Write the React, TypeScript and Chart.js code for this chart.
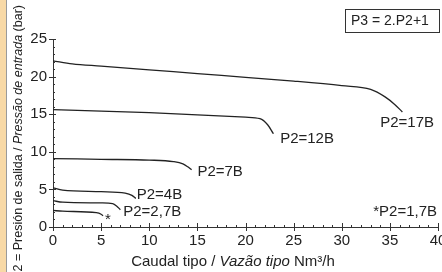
import React, { useEffect, useRef } from "react";
import { Chart, registerables } from "chart.js";
Chart.register(...registerables);

// x = caudal (Nm³/h), y = presión (bar)
const p17x = [0, 2, 5, 10, 15, 20, 25, 30, 33, 34.5, 35.5, 36.3];
const p17y = [22.1, 21.7, 21.4, 20.9, 20.4, 19.9, 19.4, 18.8, 18.3, 17.3, 16.3, 15.3];
const p12x = [0, 5, 10, 15, 20, 21.5, 22.3, 22.9];
const p12y = [15.6, 15.4, 15.2, 14.9, 14.6, 14.4, 13.6, 12.4];
const p7x = [0, 5, 10, 12.5, 13.5, 14.0, 14.4];
const p7y = [9.1, 9.0, 8.9, 8.7, 8.4, 8.0, 7.6];
const p4x = [0, 1, 5, 7.5, 8.2, 8.6];
const p4y = [5.2, 4.9, 4.7, 4.5, 4.2, 3.8];
const p27x = [0, 1, 5, 6.2, 6.6, 7.0];
const p27y = [3.5, 3.3, 3.2, 3.1, 2.8, 2.3];
const p17bx = [0, 1, 4.5, 5.0, 5.2];
const p17by = [2.2, 2.1, 1.9, 1.7, 1.5];

const xTicks = [0, 5, 10, 15, 20, 25, 30, 35, 40];
const yTicks = [0, 5, 10, 15, 20, 25];

const curveLabels = ["P2=17B", "P2=12B", "P2=7B", "P2=4B", "P2=2,7B", "*", "*P2=1,7B"];
const labelX = [34.0, 23.6, 15.0, 8.7, 7.3, 5.7, 39.9];
const labelY = [13.9, 11.7, 7.3, 4.3, 2.0, 0.9, 2.0];
const labelAlign = ["left", "left", "left", "left", "left", "center", "right"];

const formula = "P3 = 2.P2+1";

const FONT = "'Liberation Sans', Arial, sans-serif";
const INK = "#222";

const toPts = (xs: number[], ys: number[]) => xs.map((x, i) => ({ x, y: ys[i] }));

export default function App() {
  const ref = useRef<HTMLCanvasElement | null>(null);
  useEffect(() => {
    document.body.style.margin = "0";
    const ctx = ref.current!.getContext("2d")!;
    const series = [
      toPts(p17x, p17y),
      toPts(p12x, p12y),
      toPts(p7x, p7y),
      toPts(p4x, p4y),
      toPts(p27x, p27y),
      toPts(p17bx, p17by),
    ];
    const deco = {
      id: "deco",
      afterDraw(chart: any) {
        const c = chart.ctx;
        const xs = chart.scales.x;
        const ys = chart.scales.y;
        const ax = xs.getPixelForValue(0);
        const ay = ys.getPixelForValue(0);
        c.save();
        c.strokeStyle = "#333";
        c.lineWidth = 1;
        c.beginPath();
        for (let v = 0; v <= 40; v++) {
          const px = Math.round(xs.getPixelForValue(v)) + 0.5;
          if (v % 5 === 0) {
            c.moveTo(px, ay - 4);
            c.lineTo(px, ay + 4);
          } else {
            c.moveTo(px, ay - 2);
            c.lineTo(px, ay);
          }
        }
        for (let v = 0; v <= 25; v++) {
          const py = Math.round(ys.getPixelForValue(v)) + 0.5;
          if (v % 5 === 0) {
            c.moveTo(ax - 4, py);
            c.lineTo(ax + 3, py);
          } else {
            c.moveTo(ax, py);
            c.lineTo(ax + 2, py);
          }
        }
        c.stroke();
        // curve labels
        c.fillStyle = INK;
        c.font = `15px ${FONT}`;
        c.textBaseline = "middle";
        curveLabels.forEach((t, i) => {
          c.textAlign = labelAlign[i];
          c.fillText(t, xs.getPixelForValue(labelX[i]), ys.getPixelForValue(labelY[i]));
        });
        // formula box
        c.font = `14px ${FONT}`;
        c.textAlign = "left";
        c.fillText(formula, 351, 21);
        c.strokeStyle = "#333";
        c.strokeRect(345.5, 9.5, 94, 23);
        // x title
        const xf = 15;
        const a = "Caudal tipo / ";
        const b = "Vazão tipo";
        const d = " Nm³/h";
        c.font = `${xf}px ${FONT}`;
        const wa = c.measureText(a).width;
        const wd = c.measureText(d).width;
        c.font = `italic ${xf}px ${FONT}`;
        const wb = c.measureText(b).width;
        const sx = 233 - (wa + wb + wd) / 2;
        c.textBaseline = "middle";
        c.textAlign = "left";
        c.font = `${xf}px ${FONT}`;
        c.fillText(a, sx, 262);
        c.font = `italic ${xf}px ${FONT}`;
        c.fillText(b, sx + wa, 262);
        c.font = `${xf}px ${FONT}`;
        c.fillText(d, sx + wa + wb, 262);
        // y title
        c.translate(19, 5);
        c.rotate(-Math.PI / 2);
        c.textAlign = "left";
        const y1 = "P2 = Presión de salida / ";
        const y2 = "Pressão de entrada";
        const y3 = " (bar)";
        c.font = `12.5px ${FONT}`;
        const w1 = c.measureText(y1).width;
        const w3 = c.measureText(y3).width;
        c.font = `italic 12.5px ${FONT}`;
        const w2 = c.measureText(y2).width;
        const start = -(w1 + w2 + w3);
        c.font = `12.5px ${FONT}`;
        c.fillText(y1, start, 0);
        c.font = `italic 12.5px ${FONT}`;
        c.fillText(y2, start + w1, 0);
        c.font = `12.5px ${FONT}`;
        c.fillText(y3, start + w1 + w2, 0);
        c.restore();
      },
    };
    const chart = new Chart(ctx, {
      type: "scatter",
      data: {
        datasets: series.map((d) => ({
          data: d,
          showLine: true,
          borderColor: "#222",
          borderWidth: 1.3,
          pointRadius: 0,
          cubicInterpolationMode: "monotone" as const,
          fill: false,
        })),
      },
      options: {
        animation: false,
        responsive: false,
        events: [],
        layout: { padding: { left: 0, top: 39, right: 42, bottom: 0 } },
        plugins: { legend: { display: false }, tooltip: { enabled: false } },
        scales: {
          x: {
            type: "linear",
            min: 0,
            max: 40,
            afterFit: (s: any) => { s.height = 45; },
            afterBuildTicks: (s: any) => { s.ticks = xTicks.map((v) => ({ value: v })); },
            grid: { display: false, drawTicks: false },
            border: { display: true, color: "#333", width: 1 },
            ticks: { color: INK, font: { family: FONT, size: 15 }, padding: 5, maxRotation: 0, autoSkip: false },
          },
          y: {
            type: "linear",
            min: 0,
            max: 25,
            afterFit: (s: any) => { s.width = 53; },
            afterBuildTicks: (s: any) => { s.ticks = yTicks.map((v) => ({ value: v })); },
            grid: { display: false, drawTicks: false },
            border: { display: true, color: "#333", width: 1 },
            ticks: { color: INK, font: { family: FONT, size: 15 }, padding: 6, autoSkip: false },
          },
        },
      },
      plugins: [deco],
    });
    return () => chart.destroy();
  }, []);
  return (
    <div style={{ position: "relative", width: 442, height: 272, overflow: "hidden", background: "#fff" }}>
      <canvas ref={ref} width={480} height={272} style={{ position: "absolute", left: 0, top: 0, width: 480, height: 272 }} />
      <div style={{ position: "absolute", left: 0, top: 0, width: 6, height: 272, background: "#f8d9a6" }} />
      <div style={{ position: "absolute", left: 6, top: 0, width: 1, height: 272, background: "#9a9a9a" }} />
    </div>
  );
}
